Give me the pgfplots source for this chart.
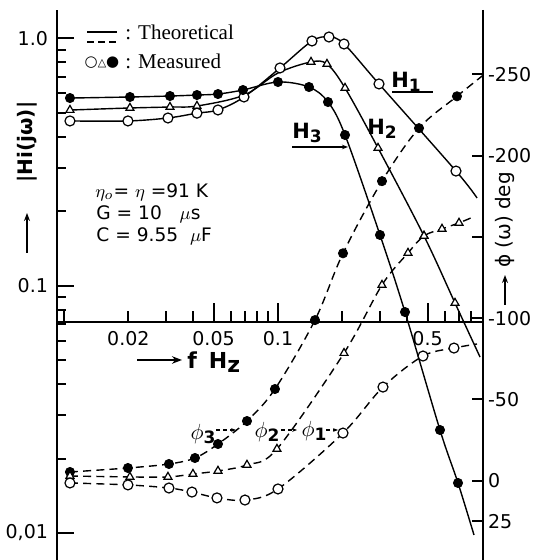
\documentclass[border=0pt]{standalone}
\usepackage{pgfplots}
\pgfplotsset{compat=1.18}
\usepackage{fontspec}
\setmainfont{Liberation Serif}
\setsansfont{DejaVu Sans}
\newfontfamily\dejavu{DejaVu Sans}
\usetikzlibrary{arrows.meta}
\newcommand\sub[1]{\raisebox{-0.4ex}{\fontsize{8.5}{8.5}\selectfont #1}}
\begin{document}
\begin{tikzpicture}
\pgfplotsset{
  solidH/.style={black, line width=0.7pt, smooth, tension=0.55},
  dashP/.style={black, line width=0.7pt, smooth, tension=0.55, dash pattern=on 4pt off 2.6pt},
  openc/.style={only marks, mark=*, mark size=2.5pt, mark options={fill=white, draw=black, line width=0.6pt, solid}},
  fillc/.style={only marks, mark=*, mark size=2.3pt, mark options={fill=black, draw=black, solid}},
  opent/.style={only marks, mark=triangle*, mark size=2.3pt, mark options={fill=white, draw=black, line width=0.6pt, solid}},
}
% magnitude data
\begin{axis}[anchor=south west, at={(0,0)}, scale only axis,
  width=213pt, height=275pt, xmode=log, xmin=0.00928, xmax=0.9077,
  ymode=log, ymin=0.00778, ymax=1.304, clip=false, hide axis]
% H1
\addplot[solidH] coordinates {(0.01067,0.464)(0.01991,0.464)(0.03062,0.477)(0.04183,0.499)(0.05244,0.514)(0.06937,0.580)(0.1022,0.760)(0.1442,0.977)(0.1731,1.014)(0.2035,0.950)(0.2965,0.655)(0.6788,0.291)(0.8511,0.2265)};
% H2
\addplot[solidH] coordinates {(0.01067,0.5136)(0.02034,0.5236)(0.03129,0.5284)(0.04183,0.5333)(0.06937,0.59)(0.1,0.725)(0.1427,0.8035)(0.1694,0.7885)(0.2057,0.6308)(0.2934,0.3607)(0.4811,0.1590)(0.6716,0.0852)(0.8791,0.0515)};
% H3
\addplot[solidH] coordinates {(0.01067,0.5744)(0.02034,0.580)(0.03129,0.5853)(0.04183,0.5908)(0.05244,0.5963)(0.06862,0.6190)(0.1000,0.6669)(0.1396,0.6365)(0.1713,0.5535)(0.2057,0.4072)(0.2997,0.1605)(0.3922,0.0783)(0.5715,0.0261)(0.6937,0.01594)(0.8239,0.00982)};
\addplot[opent] coordinates {(0.01067,0.5136)(0.02034,0.5236)(0.03129,0.5284)(0.04183,0.5333)(0.1427,0.8035)(0.1694,0.7885)(0.2057,0.6308)(0.2934,0.3607)(0.4811,0.1590)(0.6716,0.0852)};
\addplot[openc] coordinates {(0.01067,0.464)(0.01991,0.464)(0.03062,0.477)(0.04183,0.499)(0.05244,0.514)(0.06937,0.580)(0.1022,0.760)(0.1442,0.977)(0.1731,1.014)(0.2035,0.950)(0.2965,0.655)(0.6788,0.291)};
\addplot[fillc] coordinates {(0.01067,0.5744)(0.02034,0.580)(0.03129,0.5853)(0.04183,0.5908)(0.05244,0.5963)(0.06862,0.6190)(0.1000,0.6669)(0.1396,0.6365)(0.1713,0.5535)(0.2057,0.4072)(0.2997,0.1605)(0.3922,0.0783)(0.5715,0.0261)(0.6937,0.01594)};
\end{axis}
% phase axis
\begin{axis}[anchor=south west, at={(0,0)}, scale only axis,
  width=213pt, height=275pt, xmode=log, xmin=0.00928, xmax=0.9077,
  clip=false, y dir=reverse, ymin=-289.6, ymax=48.8,
  axis x line=none, axis y line*=right,
  y axis line style={line width=0.9pt},
  ytick={-250,-200,-150,-100,-50,0,25},
  yticklabels={{-250},{-200},{},{-100},{-50},{0},{25}},
  tick align=inside, major tick length=5.5pt,
  every tick/.style={black, line width=1pt},
  yticklabel style={font=\dejavu\fontsize{9.5}{10}\selectfont, xshift=-1pt},
]
% phi3
\addplot[dashP] coordinates {(0.01067,-5.35)(0.01991,-7.81)(0.03095,-10.27)(0.04094,-13.96)(0.05244,-22.57)(0.07165,-36.7)(0.0968,-56.4)(0.1489,-98.8)(0.2013,-139.9)(0.3062,-184.3)(0.4560,-216.9)(0.6861,-236.5)(0.9077,-249.4)};
% phi2
\addplot[dashP] coordinates {(0.01067,-2.9)(0.02034,-2.3)(0.03062,-2.3)(0.04007,-4.1)(0.05244,-6.0)(0.07165,-9.7)(0.0989,-19.5)(0.2035,-78.5)(0.3062,-120.4)(0.4050,-140.1)(0.4811,-150.6)(0.5840,-154.9)(0.7012,-158.6)(0.8150,-162.2)};
% phi1
\addplot[dashP] coordinates {(0.01067,1.4)(0.01991,2.6)(0.03095,4.5)(0.03964,7.0)(0.05188,10.6)(0.07012,11.9)(0.1000,5.1)(0.2013,-29.3)(0.3095,-57.6)(0.4760,-76.7)(0.6643,-81.6)(0.8511,-84.1)};
\addplot[fillc] coordinates {(0.01067,-5.35)(0.01991,-7.81)(0.03095,-10.27)(0.04094,-13.96)(0.05244,-22.57)(0.07165,-36.7)(0.0968,-56.4)(0.1489,-98.8)(0.2013,-139.9)(0.3062,-184.3)(0.4560,-216.9)(0.6861,-236.5)};
\addplot[opent] coordinates {(0.01067,-2.9)(0.02034,-2.3)(0.03062,-2.3)(0.04007,-4.1)(0.05244,-6.0)(0.07165,-9.7)(0.0989,-19.5)(0.2035,-78.5)(0.3062,-120.4)(0.4050,-140.1)(0.4811,-150.6)(0.5840,-154.9)(0.7012,-158.6)};
\addplot[openc] coordinates {(0.01067,1.4)(0.01991,2.6)(0.03095,4.5)(0.03964,7.0)(0.05188,10.6)(0.07012,11.9)(0.1000,5.1)(0.2013,-29.3)(0.3095,-57.6)(0.4760,-76.7)(0.6643,-81.6)};
\end{axis}
% frequency axis line in the middle (tick positions are log10 of 0.01 ... 0.8 Hz)
\begin{axis}[anchor=north west, at={(0,275pt)}, scale only axis,
  width=213pt, height=156pt, xmin=-2.0325, xmax=-0.0421,
  clip=false, ymin=0, ymax=1, axis y line=none, axis x line*=bottom,
  x axis line style={line width=0.9pt},
  xtick={-2,-1.69897,-1.52288,-1.39794,-1.30103,-1.22185,-1.15490,-1.09691,-1.04576,-1,-0.69897,-0.52288,-0.39794,-0.30103,-0.22185,-0.15490,-0.09691},
  xticklabels={,0.02,,,0.05,,,,,0.1,,,,0.5,,,},
  tick align=inside, major tick length=5.5pt,
  every tick/.style={black, line width=1pt},
  xticklabel style={font=\dejavu\fontsize{9.5}{10}\selectfont, yshift=-1pt},
]
\end{axis}
% long ticks at 0.05, 0.1, 0.5
\begin{axis}[anchor=north west, at={(0,275pt)}, scale only axis,
  width=213pt, height=156pt, xmin=-2.0325, xmax=-0.0421,
  clip=false, ymin=0, ymax=1, axis y line=none, axis x line*=bottom,
  x axis line style={line width=0.9pt},
  xtick={-1.30103,-1,-0.30103}, xticklabels={},
  tick align=inside, major tick length=9.5pt,
  every tick/.style={black, line width=1pt},
]
\end{axis}
% left magnitude axis line and ticks (tick positions are log10 of |H|)
\begin{axis}[anchor=south west, at={(0,0)}, scale only axis,
  width=213pt, height=275pt, xmin=0, xmax=1,
  ymin=-2.1090, ymax=0.1153,
  clip=false, axis x line=none, axis y line*=left,
  y axis line style={line width=0.9pt},
  ytick={-2,-1.69897,-1.52288,-1.39794,-1.30103,-1.22185,-1.15490,-1.09691,-1.04576,-1,-0.69897,-0.52288,-0.39794,-0.30103,-0.22185,-0.15490,-0.09691,-0.04576,0},
  yticklabels={{0,01},,,,,,,,,{0.1},,,,,,,,,{1.0}},
  tick align=inside, major tick length=4.5pt,
  every tick/.style={black, line width=1pt},
  yticklabel style={font=\dejavu\fontsize{9.5}{10}\selectfont, xshift=-1pt},
]
\end{axis}
% long ticks at 0.01, 0.1, 1.0
\begin{axis}[anchor=south west, at={(0,0)}, scale only axis,
  width=213pt, height=275pt, xmin=0, xmax=1,
  ymin=-2.1090, ymax=0.1153,
  clip=false, axis x line=none, axis y line*=left,
  y axis line style={line width=0.9pt},
  ytick={-2,-1,0}, yticklabels={},
  tick align=inside, major tick length=8.5pt,
  every tick/.style={black, line width=1pt},
]
\end{axis}
% legend
\draw[line width=0.7pt] (15pt,264pt) -- (30pt,264pt);
\draw[line width=0.7pt, dash pattern=on 3.5pt off 2pt] (15pt,259pt) -- (30pt,259pt);
\node[anchor=west, inner sep=0pt, font=\fontsize{10.5}{10.5}\selectfont] at (34pt,264pt) {: Theoretical};
\node[anchor=west, inner sep=0pt, font=\fontsize{10.5}{10.5}\selectfont] at (34pt,249.5pt) {: Measured};
\node[anchor=center, inner sep=0pt, font=\dejavu\fontsize{7.5}{8}\selectfont] at (22.5pt,248.5pt) {○{\fontsize{5.5}{6}\selectfont △}●};
% parameters
\node[anchor=west, inner sep=0pt, font=\dejavu\fontsize{9.3}{10}\selectfont] at (19pt,184pt) {$\eta_o$= $\eta$ =91 K};
\node[anchor=west, inner sep=0pt, font=\dejavu\fontsize{9.3}{10}\selectfont] at (19.5pt,173pt) {G = 10 \ \ $\mu$s};
\node[anchor=west, inner sep=0pt, font=\dejavu\fontsize{9.3}{10}\selectfont] at (19.5pt,162pt) {C = 9.55 \ $\mu$F};
% curve labels
\node[inner sep=0pt, font=\dejavu\bfseries\fontsize{10.5}{11}\selectfont] at (174.5pt,239pt) {H\sub{1}};
\draw[line width=0.6pt] (167.5pt,234pt) -- (188pt,234pt);
\node[inner sep=0pt, font=\dejavu\bfseries\fontsize{10.5}{11}\selectfont] at (162.5pt,215.5pt) {H\sub{2}};
\node[inner sep=0pt, font=\dejavu\bfseries\fontsize{10.5}{11}\selectfont] at (125pt,213.5pt) {H\sub{3}};
\draw[line width=0.6pt, -{Stealth[length=3pt]}] (117.5pt,206.5pt) -- (145.5pt,206.5pt);
% phase labels
\node[inner sep=0pt, font=\dejavu\bfseries\fontsize{10.5}{11}\selectfont] at (73pt,63pt) {$\phi$\sub{3}};
\draw[line width=0.6pt, dash pattern=on 2pt off 1.5pt, -{Stealth[length=2.5pt]}] (79.5pt,65pt) -- (89.5pt,65pt);
\node[inner sep=0pt, font=\dejavu\bfseries\fontsize{10.5}{11}\selectfont] at (105pt,64pt) {$\phi$\sub{2}};
\draw[line width=0.6pt, dash pattern=on 2pt off 1.5pt, -{Stealth[length=2.5pt]}] (112pt,65pt) -- (120pt,65pt);
\node[inner sep=0pt, font=\dejavu\bfseries\fontsize{10.5}{11}\selectfont] at (128.5pt,64.5pt) {$\phi$\sub{1}};
\draw[line width=0.6pt, dash pattern=on 2pt off 1.5pt, -{Stealth[length=2.5pt]}] (134.5pt,65pt) -- (140.5pt,65pt);
% axis labels
\node[rotate=90, inner sep=0pt, font=\dejavu\bfseries\fontsize{10}{10}\selectfont] at (-15pt,209pt) {|Hi(jω)|};
\draw[line width=0.8pt, -{Stealth[length=4pt]}] (-15pt,153.5pt) -- (-15pt,173.5pt);
\node[rotate=90, inner sep=0pt, font=\dejavu\fontsize{10}{10}\selectfont] at (224pt,170pt) {ϕ (ω) deg};
\draw[line width=0.8pt, -{Stealth[length=4pt]}] (224pt,127.5pt) -- (224pt,142.5pt);
\draw[line width=0.9pt, -{Stealth[length=5pt]}] (40pt,100pt) -- (62.5pt,100pt);
\node[anchor=west, inner sep=0pt, font=\dejavu\bfseries\fontsize{11}{11}\selectfont] at (65pt,99pt) {f\hspace{6pt}H\raisebox{-2pt}{z}};
\pgfresetboundingbox
\path[use as bounding box] (-28.5pt,0pt) rectangle (240pt,280pt);
\end{tikzpicture}
\end{document}
